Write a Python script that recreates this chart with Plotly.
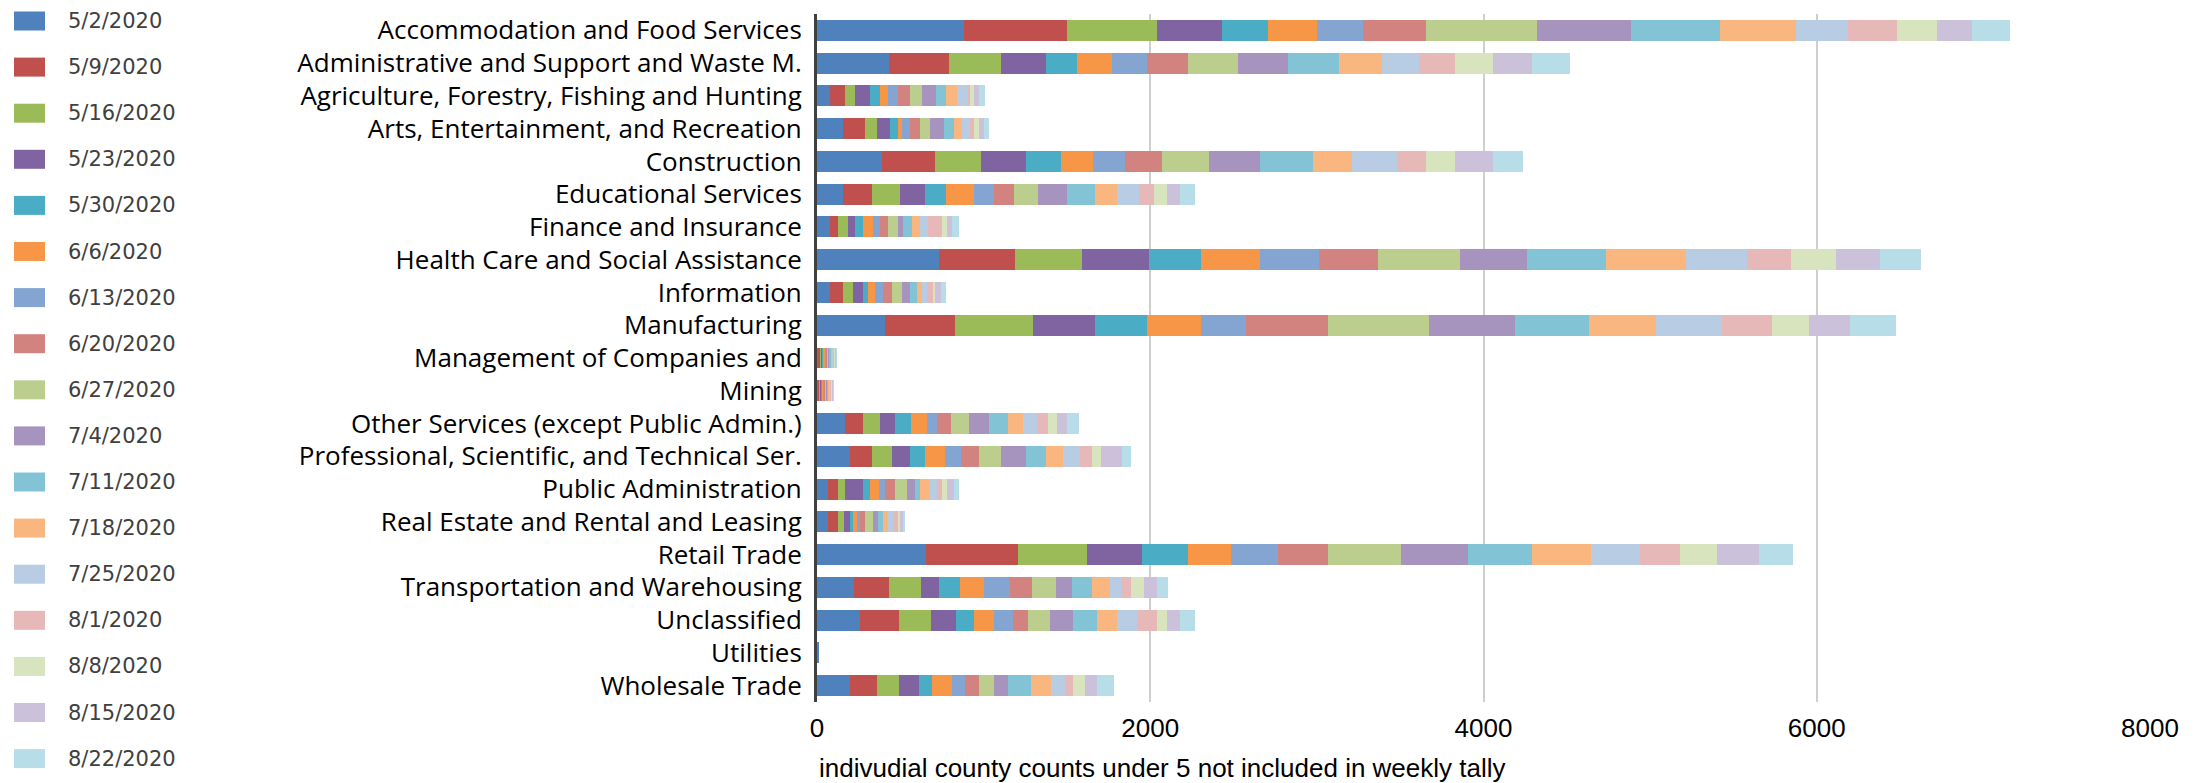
import plotly.graph_objects as go

categories = [
    "Accommodation and Food Services",
    "Administrative and Support and Waste M.",
    "Agriculture, Forestry, Fishing and Hunting",
    "Arts, Entertainment, and Recreation",
    "Construction",
    "Educational Services",
    "Finance and Insurance",
    "Health Care and Social Assistance",
    "Information",
    "Manufacturing",
    "Management of Companies and",
    "Mining",
    "Other Services (except Public Admin.)",
    "Professional, Scientific, and Technical Ser.",
    "Public Administration",
    "Real Estate and Rental and Leasing",
    "Retail Trade",
    "Transportation and Warehousing",
    "Unclassified",
    "Utilities",
    "Wholesale Trade",
]

weeks = ["5/2/2020", "5/9/2020", "5/16/2020", "5/23/2020", "5/30/2020", "6/6/2020",
         "6/13/2020", "6/20/2020", "6/27/2020", "7/4/2020", "7/11/2020", "7/18/2020",
         "7/25/2020", "8/1/2020", "8/8/2020", "8/15/2020", "8/22/2020"]

w_0502 = [881, 433, 80, 156, 393, 159, 80, 731, 80, 408, 10, 8, 169, 199, 64, 64, 657, 224, 259, 10, 199]
w_0509 = [622, 358, 90, 134, 314, 174, 44, 458, 76, 418, 8, 6, 110, 134, 60, 60, 547, 209, 234, 0, 164]
w_0516 = [537, 313, 60, 70, 278, 165, 60, 403, 60, 472, 8, 4, 99, 120, 46, 40, 418, 189, 194, 0, 130]
w_0523 = [388, 269, 90, 76, 269, 149, 46, 403, 60, 368, 8, 10, 90, 104, 104, 32, 328, 109, 149, 0, 119]
w_0530 = [279, 189, 60, 48, 208, 129, 46, 308, 28, 314, 6, 6, 99, 90, 46, 20, 274, 125, 109, 0, 80]
w_0606 = [293, 209, 44, 28, 194, 164, 58, 358, 46, 323, 8, 6, 95, 119, 50, 24, 263, 144, 115, 0, 119]
w_0613 = [274, 209, 60, 44, 194, 125, 42, 354, 44, 274, 8, 6, 59, 100, 40, 20, 279, 159, 119, 0, 75]
w_0620 = [378, 249, 72, 60, 219, 119, 48, 353, 56, 487, 8, 6, 85, 109, 60, 30, 298, 134, 90, 0, 84]
w_0627 = [671, 298, 74, 60, 284, 144, 60, 492, 60, 607, 6, 6, 105, 129, 70, 46, 443, 140, 129, 0, 90]
w_0704 = [562, 299, 86, 88, 308, 174, 32, 403, 46, 517, 6, 6, 119, 150, 50, 28, 398, 99, 139, 0, 89]
w_0711 = [532, 308, 60, 60, 314, 165, 54, 473, 44, 448, 8, 6, 119, 119, 30, 32, 388, 120, 145, 0, 134]
w_0718 = [458, 254, 64, 48, 238, 134, 46, 477, 30, 398, 6, 6, 90, 105, 56, 28, 353, 104, 119, 0, 120]
w_0725 = [313, 223, 64, 44, 269, 129, 48, 368, 30, 398, 6, 5, 84, 99, 44, 32, 293, 70, 119, 0, 84]
w_0801 = [293, 219, 12, 28, 174, 90, 86, 264, 36, 298, 6, 5, 65, 75, 30, 28, 239, 59, 119, 0, 50]
w_0808 = [239, 224, 24, 28, 174, 79, 30, 268, 14, 224, 6, 5, 55, 54, 30, 16, 224, 80, 60, 0, 70]
w_0815 = [209, 239, 30, 28, 229, 80, 30, 269, 34, 244, 6, 5, 59, 125, 40, 16, 254, 74, 80, 0, 75]
w_0822 = [229, 229, 40, 30, 179, 89, 40, 244, 32, 278, 4, 4, 70, 54, 30, 14, 199, 70, 89, 0, 99]

series_values = [w_0502, w_0509, w_0516, w_0523, w_0530, w_0606, w_0613, w_0620, w_0627,
                 w_0704, w_0711, w_0718, w_0725, w_0801, w_0808, w_0815, w_0822]

colors = ["#4F81BD", "#C0504D", "#9BBB59", "#8064A2", "#4BACC6", "#F79646",
          "#84A5D1", "#D3837F", "#BBCE8E", "#A794BE", "#82C4D6", "#F9B67F",
          "#B8CCE4", "#E6B9B8", "#D7E4BD", "#CCC1DA", "#B7DEE8"]

x_ticks = [0, 2000, 4000, 6000, 8000]
x_title = "indivudial county counts under 5 not included in weekly tally"

# ---- layout constants (pixels) ----
W, H = 2198, 783
ML, MR, MT, MB = 817, 48, 14, 81
PW, PH = W - ML - MR, H - MT - MB

fig = go.Figure()
for name, vals, col in zip(weeks, series_values, colors):
    fig.add_trace(go.Bar(
        y=categories, x=vals, name=name, orientation="h",
        marker=dict(color=col, line=dict(width=0)),
        showlegend=False,
    ))

# custom legend (swatches + labels) on the left side
def px_to_paper_x(px):
    return (px - ML) / PW

def px_to_paper_y(py):
    return (H - MB - py) / PH

leg_y0, leg_step = 21.0, 46.1
sw_x0, sw_x1, sw_h = 14, 45, 19
for i, (name, col) in enumerate(zip(weeks, colors)):
    cy = leg_y0 + i * leg_step
    fig.add_shape(type="rect", xref="paper", yref="paper",
                  x0=px_to_paper_x(sw_x0), x1=px_to_paper_x(sw_x1),
                  y0=px_to_paper_y(cy + sw_h / 2), y1=px_to_paper_y(cy - sw_h / 2),
                  fillcolor=col, line=dict(width=0), layer="above")
    fig.add_annotation(xref="paper", yref="paper", x=px_to_paper_x(66), y=px_to_paper_y(cy),
                       text=name, showarrow=False, xanchor="left", yanchor="middle",
                       font=dict(family="DejaVu Sans", size=21, color="#404040"))

fig.add_annotation(xref="x", yref="paper", x=0, y=px_to_paper_y(768), text=x_title,
                   showarrow=False, xanchor="left", yanchor="middle",
                   font=dict(family="Liberation Sans Narrow, Liberation Sans", size=26, color="#000000"))

fig.update_layout(
    width=W, height=H,
    margin=dict(l=ML, r=MR, t=MT, b=MB, autoexpand=False),
    barmode="stack", bargap=0.36,
    plot_bgcolor="white", paper_bgcolor="white",
    showlegend=False,
    xaxis=dict(range=[0, 8000], tickvals=x_ticks, showgrid=True, gridcolor="#CFCFCF", gridwidth=2,
               zeroline=False, showline=False, ticks="", ticklabelstandoff=8,
               tickfont=dict(family="Liberation Sans Narrow, Liberation Sans", size=26, color="#000000")),
    yaxis=dict(categoryorder="array", categoryarray=categories, autorange="reversed",
               showline=True, linecolor="#404040", linewidth=3, ticks="", ticklabelstandoff=7,
               tickfont=dict(family="Open Sans", size=26, color="#000000")),
)

fig.write_html("out.html", config={"displayModeBar": False},
               post_script="document.body.style.margin='0px';")
